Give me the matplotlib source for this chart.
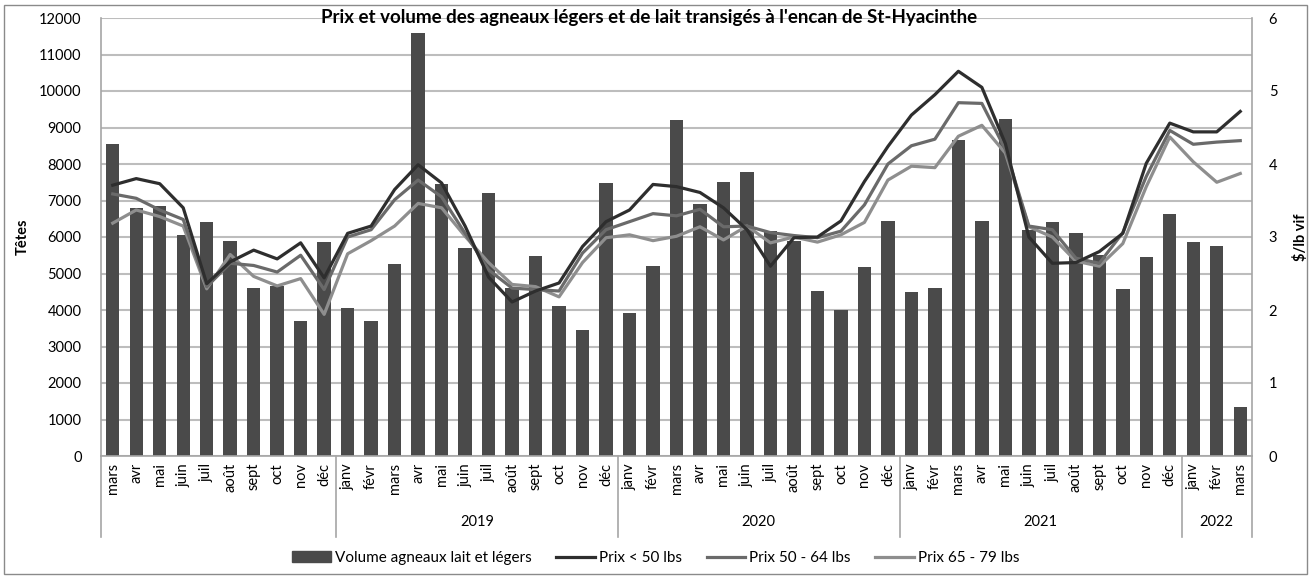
import numpy as np
import matplotlib.pyplot as plt
from matplotlib.patches import Rectangle, Patch
from matplotlib.lines import Line2D

plt.rcParams['font.family'] = ['Lato', 'DejaVu Sans']

# Mois (mars 2018 -> mars 2022)
mois_2018 = ['mars', 'avr', 'mai', 'juin', 'juil', 'août', 'sept', 'oct', 'nov', 'déc']
mois_annee = ['janv', 'févr', 'mars', 'avr', 'mai', 'juin', 'juil', 'août', 'sept', 'oct', 'nov', 'déc']
mois_2022 = ['janv', 'févr', 'mars']
annees = ['', '2019', '2020', '2021', '2022']

# Volume (têtes)
volume = [8550, 6800, 6850, 6050, 6400, 5900, 4600, 4650, 3700, 5850,
          4050, 3700, 5250, 11600, 7450, 5700, 7200, 4600, 5480, 4120, 3450, 7490,
          3910, 5210, 9210, 6910, 7510, 7770, 6170, 5880, 4530, 4000, 5190, 6450,
          4500, 4600, 8660, 6450, 9240, 6200, 6400, 6100, 5520, 4570, 5440, 6620,
          5870, 5740, 1330]

# Prix ($/lb vif)
prix_50 = [3.71, 3.80, 3.73, 3.40, 2.36, 2.66, 2.82, 2.70, 2.92, 2.44,
           3.05, 3.15, 3.65, 3.99, 3.74, 3.15, 2.45, 2.11, 2.26, 2.37, 2.87, 3.21,
           3.37, 3.72, 3.69, 3.61, 3.40, 3.10, 2.60, 2.99, 3.00, 3.22, 3.76, 4.24,
           4.67, 4.95, 5.27, 5.05, 4.28, 3.00, 2.64, 2.65, 2.80, 3.05, 4.01, 4.56,
           4.44, 4.44, 4.72]
prix_50_64 = [3.59, 3.53, 3.37, 3.24, 2.32, 2.64, 2.61, 2.52, 2.75, 2.28,
              3.00, 3.10, 3.51, 3.78, 3.55, 3.05, 2.55, 2.30, 2.28, 2.26, 2.78, 3.10,
              3.21, 3.32, 3.29, 3.38, 3.14, 3.15, 3.06, 3.02, 2.99, 3.08, 3.44, 4.00,
              4.25, 4.34, 4.84, 4.83, 4.20, 3.15, 3.10, 2.71, 2.64, 3.06, 3.83, 4.46,
              4.27, 4.30, 4.32]
prix_65_79 = [3.19, 3.37, 3.28, 3.15, 2.29, 2.76, 2.46, 2.33, 2.43, 1.94,
              2.77, 2.95, 3.15, 3.46, 3.40, 3.01, 2.65, 2.35, 2.32, 2.18, 2.65, 2.99,
              3.03, 2.95, 3.01, 3.14, 2.96, 3.15, 2.92, 3.00, 2.93, 3.03, 3.20, 3.78,
              3.97, 3.95, 4.38, 4.53, 4.15, 3.14, 3.00, 2.67, 2.60, 2.91, 3.69, 4.37,
              4.03, 3.75, 3.87]

mois = mois_2018 + mois_annee * 3 + mois_2022
tailles = [len(mois_2018), 12, 12, 12, len(mois_2022)]
x = np.arange(len(mois))

c_bar = '#4a4a4a'
c_50 = '#2e2e2e'
c_64 = '#6a6a6a'
c_79 = '#8e8e8e'
c_grid = '#bdbdbd'

fig = plt.figure(figsize=(13.12, 5.78), dpi=100)
ax = fig.add_axes([101/1312, 1-456/578, (1252-101)/1312, (456-18)/578])

ax.bar(x, volume, width=0.57, color=c_bar, zorder=2)
ax.set_xlim(-0.5, len(mois) - 0.5)
ax.set_ylim(0, 12000)
ax.set_yticks(range(0, 12001, 1000))
ax.yaxis.grid(True, color=c_grid, linewidth=1.5)
ax.set_axisbelow(True)
ax.set_xticks(x)
ax.set_xticklabels(mois, rotation=90, fontsize=10.5, va='top')
ax.tick_params(axis='x', length=0, pad=5)
ax.tick_params(axis='y', length=0, labelsize=10.5, pad=14)
ax.set_ylabel('Têtes', fontsize=10.5, fontweight='bold')
ax.yaxis.set_label_coords(-0.062, 0.5)
ax.spines['top'].set_visible(False)
for s in ['left', 'right', 'bottom']:
    ax.spines[s].set_color('#a6a6a6')
    ax.spines[s].set_linewidth(1.2)

ax2 = ax.twinx()
ax2.plot(x, prix_50, color=c_50, lw=2.3, zorder=5)
ax2.plot(x, prix_50_64, color=c_64, lw=2.3, zorder=4)
ax2.plot(x, prix_65_79, color=c_79, lw=2.3, zorder=3)
ax2.set_ylim(0, 6)
ax2.set_yticks(range(0, 7))
ax2.tick_params(axis='y', length=0, labelsize=10.5, pad=12)
ax2.set_ylabel('$/lb vif', fontsize=10.5, fontweight='bold')
ax2.yaxis.set_label_coords(1.036, 0.5)
for s in ['top', 'left', 'right', 'bottom']:
    ax2.spines[s].set_visible(False)

# séparateurs d'années
trans = ax.get_xaxis_transform()
bornes = np.concatenate([[0], np.cumsum(tailles)]) - 0.5
for b in bornes:
    ax.plot([b, b], [0, -0.185], transform=trans, color='#a6a6a6', lw=1.2, clip_on=False)
for i, an in enumerate(annees):
    if an:
        ax.text((bornes[i] + bornes[i+1]) / 2, -0.15, an, transform=trans,
                ha='center', va='center', fontsize=10.5)

fig.text(0.495, 1-17/578, "Prix et volume des agneaux légers et de lait transigés à l'encan de St-Hyacinthe",
         ha='center', va='center', fontsize=13.5, fontweight='bold')

handles = [Patch(color=c_bar), Line2D([], [], color=c_50, lw=2.3),
           Line2D([], [], color=c_64, lw=2.3), Line2D([], [], color=c_79, lw=2.3)]
labels = ['Volume agneaux lait et légers', 'Prix < 50 lbs', 'Prix 50 - 64 lbs', 'Prix 65 - 79 lbs']
fig.legend(handles, labels, loc='center', bbox_to_anchor=(0.5, 1-558/578), ncol=4,
           frameon=False, fontsize=11, handlelength=2.5, handletextpad=0.3, columnspacing=1.6)

fig.patches.append(Rectangle((4/1312, 4/578), 1-9/1312, 1-9/578, transform=fig.transFigure,
                             fill=False, edgecolor='#8a8a8a', lw=1))

fig.savefig('out.png', dpi=100)
